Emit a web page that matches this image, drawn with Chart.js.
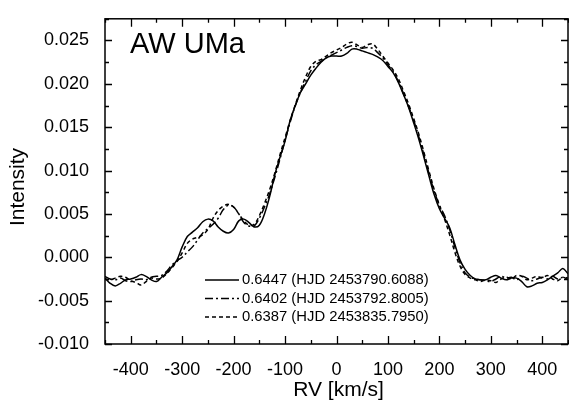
<!DOCTYPE html>
<html>
<head>
<meta charset="utf-8">
<script src="https://cdn.jsdelivr.net/npm/chart.js@4/dist/chart.umd.min.js"></script>
<style>
    html, body { margin: 0; padding: 0; background: #fff; }
    #wrap { width: 569px; height: 407px; }
</style>
</head>
<body>
<div id="wrap"><canvas id="chart" width="569" height="407"></canvas></div>
<script>
// Dados (RV em km/s, intensidade em unidades absolutas)
const rv = [
    -450, -440, -430, -420, -410, -400, -390, -380, -370, -360,
    -350, -340, -330, -320, -310, -300, -290, -280, -270, -260,
    -250, -240, -230, -220, -210, -200, -190, -180, -170, -160,
    -150, -140, -130, -120, -110, -100, -90, -80, -70, -60,
    -50, -40, -30, -20, -10, 0, 10, 20, 30, 40,
    50, 60, 70, 80, 90, 100, 110, 120, 130, 140,
    150, 160, 170, 180, 190, 200, 210, 220, 230, 240,
    250, 260, 270, 280, 290, 300, 310, 320, 330, 340,
    350, 360, 370, 380, 390, 400, 410, 420, 430, 440, 450
];

// fase 0.6447 (HJD 2453790.6088) - linha contínua
const phase6447 = [
    -0.0024, -0.0030, -0.0033, -0.0030, -0.0026, -0.0025, -0.0023, -0.0020, -0.0022, -0.0026,
    -0.0028, -0.0023, -0.0018, -0.0011, -0.0003, 0.0012, 0.0024, 0.0029, 0.0034, 0.0041,
    0.0044, 0.0042, 0.0035, 0.0030, 0.0028, 0.0032, 0.0042, 0.0044, 0.0040, 0.0035,
    0.0037, 0.0050, 0.0070, 0.0095, 0.0115, 0.0134, 0.0158, 0.0175, 0.0190, 0.0200,
    0.0210, 0.0218, 0.0225, 0.0230, 0.0232, 0.0232, 0.0232, 0.0235, 0.0240, 0.0240,
    0.0238, 0.0236, 0.0234, 0.0231, 0.0227, 0.0220, 0.0213, 0.0202, 0.0188, 0.0173,
    0.0155, 0.0136, 0.0115, 0.0093, 0.0072, 0.0056, 0.0045, 0.0034, 0.0015, -0.0003,
    -0.0014, -0.0021, -0.0025, -0.0026, -0.0026, -0.0023, -0.0021, -0.0024, -0.0026, -0.0024,
    -0.0024, -0.0028, -0.0034, -0.0033, -0.0030, -0.0029, -0.0026, -0.0022, -0.0018, -0.0013, -0.0019
];

// fase 0.6402 (HJD 2453792.8005) - traço-ponto
const phase6402 = [
    -0.0022, -0.0025, -0.0026, -0.0024, -0.0027, -0.0028, -0.0026, -0.0025, -0.0026, -0.0023,
    -0.0022, -0.0021, -0.0016, -0.0009, -0.0004, 0.0000, 0.0006, 0.0012, 0.0020, 0.0028,
    0.0033, 0.0038, 0.0045, 0.0055, 0.0060, 0.0058, 0.0050, 0.0040, 0.0036, 0.0036,
    0.0045, 0.0058, 0.0073, 0.0092, 0.0113, 0.0135, 0.0156, 0.0175, 0.0190, 0.0203,
    0.0215, 0.0222, 0.0226, 0.0230, 0.0233, 0.0236, 0.0239, 0.0242, 0.0244, 0.0243,
    0.0241, 0.0242, 0.0241, 0.0236, 0.0230, 0.0222, 0.0214, 0.0203, 0.0189, 0.0174,
    0.0158, 0.0139, 0.0118, 0.0096, 0.0076, 0.0060, 0.0048, 0.0032, 0.0012, -0.0006,
    -0.0018, -0.0023, -0.0025, -0.0026, -0.0027, -0.0028, -0.0025, -0.0022, -0.0024, -0.0023,
    -0.0026, -0.0022, -0.0024, -0.0027, -0.0025, -0.0023, -0.0025, -0.0022, -0.0025, -0.0023, -0.0024
];

// fase 0.6387 (HJD 2453835.7950) - tracejada
const phase6387 = [
    -0.0025, -0.0026, -0.0024, -0.0022, -0.0023, -0.0027, -0.0029, -0.0032, -0.0028, -0.0024,
    -0.0025, -0.0024, -0.0019, -0.0012, -0.0005, 0.0005, 0.0016, 0.0021, 0.0023, 0.0026,
    0.0032, 0.0045, 0.0054, 0.0059, 0.0061, 0.0058, 0.0050, 0.0042, 0.0037, 0.0038,
    0.0048, 0.0062, 0.0078, 0.0097, 0.0118, 0.0138, 0.0158, 0.0176, 0.0193, 0.0208,
    0.0220, 0.0226, 0.0228, 0.0232, 0.0236, 0.0239, 0.0242, 0.0246, 0.0248, 0.0245,
    0.0242, 0.0245, 0.0246, 0.0240, 0.0232, 0.0224, 0.0216, 0.0206, 0.0192, 0.0177,
    0.0160, 0.0142, 0.0121, 0.0099, 0.0078, 0.0060, 0.0044, 0.0026, 0.0006, -0.0010,
    -0.0020, -0.0024, -0.0026, -0.0028, -0.0026, -0.0027, -0.0029, -0.0025, -0.0023, -0.0025,
    -0.0021, -0.0022, -0.0026, -0.0024, -0.0022, -0.0024, -0.0021, -0.0025, -0.0027, -0.0023, -0.0026
];

const seriesLabels = [
    '0.6447 (HJD 2453790.6088)',
    '0.6402 (HJD 2453792.8005)',
    '0.6387 (HJD 2453835.7950)'
];

const xTicks = [-400, -300, -200, -100, 0, 100, 200, 300, 400];
const yTicks = [-0.010, -0.005, 0.000, 0.005, 0.010, 0.015, 0.020, 0.025];

const FONT = '"Liberation Sans", Arial, Helvetica, sans-serif';

const toPoints = (arr) => rv.map((v, i) => ({ x: v, y: arr[i] }));

// Moldura, ticks para dentro, legenda e textos
const framePlugin = {
    id: 'frame',
    afterDatasetsDraw(chart) {
        const { ctx, chartArea: a, scales } = chart;
        const sx = scales.x, sy = scales.y;
        ctx.save();
        ctx.strokeStyle = '#000';
        ctx.lineWidth = 1.5;
        ctx.strokeRect(a.left, a.top, a.right - a.left, a.bottom - a.top);

        ctx.lineWidth = 1.3;
        ctx.beginPath();
        // ticks do eixo x (a cada 50, maiores a cada 100)
        for (let v = -450; v <= 450; v += 50) {
            const px = Math.round(sx.getPixelForValue(v)) + 0.5;
            const len = v % 100 === 0 ? 8 : 4;
            ctx.moveTo(px, a.bottom); ctx.lineTo(px, a.bottom - len);
            ctx.moveTo(px, a.top); ctx.lineTo(px, a.top + len);
        }
        // ticks do eixo y (a cada 0.0025, maiores a cada 0.005)
        for (let k = -4; k <= 11; k++) {
            const v = k * 0.0025;
            const py = Math.round(sy.getPixelForValue(v)) + 0.5;
            const len = k % 2 === 0 ? 7 : 4;
            ctx.moveTo(a.left, py); ctx.lineTo(a.left + len, py);
            ctx.moveTo(a.right, py); ctx.lineTo(a.right - len, py);
        }
        ctx.stroke();

        // Legenda manual dentro da área do gráfico
        ctx.font = '14.8px ' + FONT;
        ctx.textBaseline = 'middle';
        ctx.fillStyle = '#000';
        chart.data.datasets.forEach((ds, i) => {
            const y = 280 + i * 18.5;
            ctx.beginPath();
            ctx.lineWidth = 1.5;
            ctx.setLineDash(ds.borderDash || []);
            ctx.moveTo(205, y); ctx.lineTo(239, y);
            ctx.stroke();
            ctx.setLineDash([]);
            ctx.fillText(ds.label, 242, y);
        });

        // Nome da estrela
        ctx.font = '29px ' + FONT;
        ctx.textBaseline = 'alphabetic';
        ctx.fillText('AW UMa', 130, 53);

        // Títulos dos eixos
        ctx.font = '21px ' + FONT;
        ctx.textAlign = 'center';
        ctx.textBaseline = 'middle';
        ctx.fillText('RV [km/s]', (a.left + a.right) / 2 + 2, 390);
        ctx.translate(18, 187);
        ctx.rotate(-Math.PI / 2);
        ctx.fillText('Intensity', 0, 0);
        ctx.restore();
    }
};

const ctx = document.getElementById('chart').getContext('2d');

new Chart(ctx, {
    type: 'line',
    data: {
        datasets: [
            { label: seriesLabels[0], data: toPoints(phase6447), borderDash: [] },
            { label: seriesLabels[1], data: toPoints(phase6402), borderDash: [8, 3, 2, 3] },
            { label: seriesLabels[2], data: toPoints(phase6387), borderDash: [4, 3] }
        ].map(d => ({
            ...d,
            borderColor: '#000',
            borderWidth: 1.5,
            pointRadius: 0,
            tension: 0.35,
            fill: false
        }))
    },
    options: {
        responsive: false,
        animation: false,
        layout: { padding: { top: 5, right: 1, left: 0, bottom: 0 } },
        plugins: {
            legend: { display: false },
            tooltip: { enabled: false }
        },
        scales: {
            x: {
                type: 'linear',
                min: -450,
                max: 450,
                grid: { display: false },
                border: { display: false },
                afterBuildTicks: (s) => { s.ticks = xTicks.map(v => ({ value: v })); },
                afterFit: (s) => { s.height = 63; },
                ticks: {
                    color: '#000',
                    padding: 7,
                    maxRotation: 0,
                    font: { family: FONT, size: 18 },
                    callback: (v) => String(v)
                }
            },
            y: {
                min: -0.010,
                max: 0.0275,
                grid: { display: false },
                border: { display: false },
                afterBuildTicks: (s) => { s.ticks = yTicks.map(v => ({ value: v })); },
                afterFit: (s) => { s.width = 105; },
                ticks: {
                    color: '#000',
                    padding: 8,
                    font: { family: FONT, size: 18 },
                    callback: (v) => Number(v).toFixed(3)
                }
            }
        }
    },
    plugins: [framePlugin]
});
</script>
</body>
</html>
